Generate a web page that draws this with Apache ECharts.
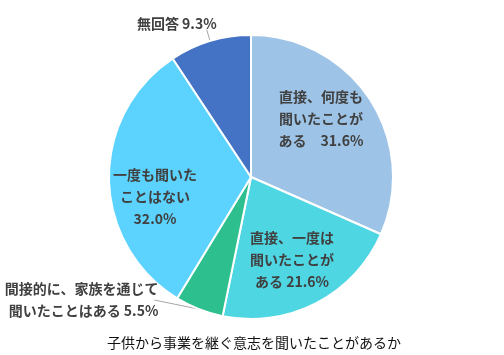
<!DOCTYPE html>
<html>
<head>
<meta charset="utf-8">
<script src="https://cdn.jsdelivr.net/npm/echarts@6/dist/echarts.min.js"></script>
<style>
  html, body { margin: 0; padding: 0; background: #fff; }
  #chart { width: 504px; height: 355px; }
</style>
</head>
<body>
<div id="chart"></div>
<script>
// 子供から事業を継ぐ意志を聞いたことがあるか
const categories = [
  '直接、何度も\n聞いたことが\nある　',
  '直接、一度は\n聞いたことが\nある ',
  '間接的に、家族を通じて\n聞いたことはある ',
  '一度も聞いた\nことはない\n',
  '無回答 '
];
const values = [31.6, 21.6, 5.5, 32.0, 9.3];
const colors = ['#9DC3E6', '#4FD6E3', '#2EBF8F', '#5CD3FF', '#4472C4'];
const outsideIdx = [2, 4];
// label nudges [dx, dy] relative to the library's default spot
const labelShift = [[8, -18], [7, 17], [5, -11], [-22, 18], [19, -6]];

const chart = echarts.init(document.getElementById('chart'));

const font = '"Noto Sans CJK JP", "Noto Sans", sans-serif';

const data = values.map((v, i) => {
  const outside = outsideIdx.indexOf(i) >= 0;
  return {
    name: categories[i],
    value: v,
    itemStyle: {color: colors[i]},
    label: {position: outside ? 'outside' : 'inside'},
    labelLine: outside
      ? {show: true, length: i === 4 ? 12 : 2, length2: i === 4 ? 4 : 40}
      : {show: false}
  };
});

chart.setOption({
  animation: false,
  title: {
    text: '子供から事業を継ぐ意志を聞いたことがあるか',
    left: 102,
    top: 331,
    textStyle: {fontFamily: font, fontSize: 14, fontWeight: 'normal', color: '#111'}
  },
  series: [{
    type: 'pie',
    center: [251, 177],
    radius: [0, 142],
    startAngle: 90,
    clockwise: true,
    avoidLabelOverlap: false,
    itemStyle: {borderColor: '#fff', borderWidth: 2},
    label: {
      formatter: (p) => p.name + p.value.toFixed(1) + '%',
      fontFamily: font,
      fontSize: 14,
      fontWeight: 'bold',
      color: '#404040',
      lineHeight: 22,
      align: 'center'
    },
    labelLine: {lineStyle: {color: '#A6A6A6', width: 1}, smooth: false},
    labelLayout: (params) => {
      const s = labelShift[params.dataIndex];
      const out = {dx: s[0], dy: s[1]};
      const pts = params.labelLinePoints;
      if (pts && params.dataIndex === 2) {
        out.labelLinePoints = [pts[0], pts[0], [pts[2][0] - 4, pts[2][1] + s[1]]];
      } else if (pts) {
        out.labelLinePoints = [pts[0], pts[1], pts[1]];
      }
      return out;
    },
    data: data
  }]
});
</script>
</body>
</html>
